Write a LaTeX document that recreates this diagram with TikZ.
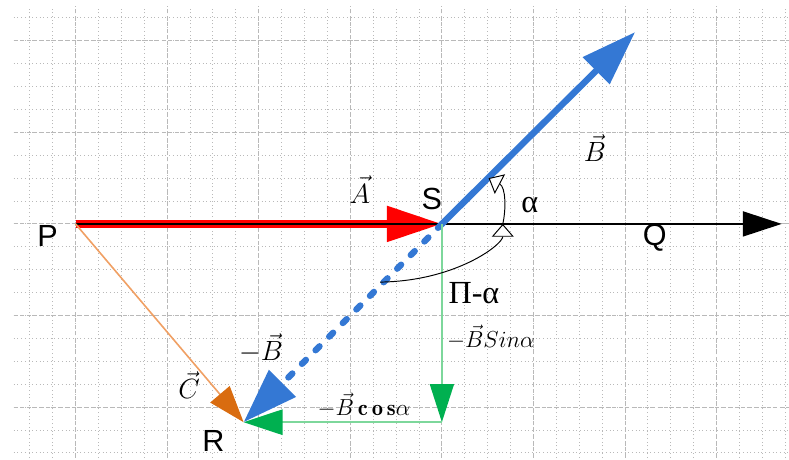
\documentclass[tikz,border=0pt]{standalone}
\usepackage{fontspec}
\usetikzlibrary{arrows.meta}
\newfontfamily\ptfont{Liberation Sans}
\newfontfamily\grfont{Liberation Serif}
\definecolor{vecblue}{RGB}{52,120,212}
\definecolor{vecorange}{RGB}{217,108,16}
\definecolor{lineorange}{RGB}{240,160,100}
\definecolor{vecgreen}{RGB}{0,176,80}
\definecolor{linegreen}{RGB}{125,215,155}

\begin{document}
\begin{tikzpicture}[
  minor/.style={gray!55, dash pattern=on 0.6pt off 1.7pt, line width=0.6pt},
  major/.style={gray!55, dash pattern=on 2.5pt off 1.5pt, line width=0.6pt},
  point/.style={font=\ptfont\fontsize{19}{20}\selectfont, inner sep=0pt},
  vlabel/.style={font=\fontsize{17}{18}\selectfont, inner sep=0pt},
  glabel/.style={font=\grfont\fontsize{20}{22}\selectfont, inner sep=0pt},
  clabel/.style={font=\fontsize{14}{15}\selectfont, inner sep=0pt},
  bigtip/.style={-{Triangle[length=1.2cm, width=0.8cm]}},
  opentip/.style={-{Triangle[length=0.28cm, width=0.48cm, fill=white]}},
  angarc/.style={black, line width=0.6pt, opentip}
]

%okvir i mreza
\useasboundingbox (-9.65,-5.15) rectangle (7.58,4.89);
\draw[minor] (-9.35,-5.1) grid[step=0.5] (7.6,4.75);
\draw[major] (-9.35,-5.1) grid[step=2] (7.6,4.75);

%tocke
\coordinate (P) at (-8,0);
\coordinate (S) at (0,0);
\coordinate (E) at (7.42,0);
\coordinate (Bt) at (4.22,4.19);
\coordinate (R) at (-4.33,-4.33);
\coordinate (K) at (S |- R);
\coordinate (a0) at (1.33,0);
\coordinate (a1) at (1.02,1.0);
\coordinate (a2) at (-1.35,-1.27);

%vektori A i os
\draw[red, line width=4.5pt, -{Triangle[length=1.2cm, width=0.75cm]}] (P) -- (S);
\draw[black, line width=0.9pt, -{Triangle[length=0.85cm, width=0.55cm]}] (P) -- (E);

%vektori B i -B
\draw[vecblue, line width=4pt, bigtip] (S) -- (Bt);
\draw[vecblue, line width=4pt, line cap=round, dash pattern=on 0.12cm off 0.3cm, bigtip] (S) -- (R);

%komponente
\draw[linegreen, line width=1.3pt, -{Triangle[length=0.83cm, width=0.52cm, color=vecgreen]}] (S) -- (K);
\draw[linegreen, line width=1.3pt, -{Triangle[length=0.85cm, width=0.55cm, color=vecgreen]}] (K) -- (R);

%vektor C
\draw[lineorange, line width=1pt, -{Triangle[length=0.8cm, width=0.55cm, color=vecorange]}] (P) -- (R);

%kutovi
\draw[angarc] (a2) .. controls (0.3,-1.25) and (1.33,-0.45) .. (a0);
\draw[angarc] (a0) .. controls (1.4,0.3) and (1.4,0.8) .. (a1);

%oznake
\node[point] (lblP) at (-8.61,-0.27) {P};
\node[point] (lblS) at (-0.22,0.55) {S};
\node[point] (lblQ) at (4.65,-0.3) {Q};
\node[point] (lblR) at (-4.99,-4.74) {R};
\node[vlabel] (lblA) at (-1.79,0.75) {$\vec{A}$};
\node[vlabel] (lblB) at (3.34,1.66) {$\vec{B}$};
\node[vlabel] (lblmB) at (-3.95,-2.71) {$-\vec{B}$};
\node[vlabel] (lblC) at (-5.52,-3.52) {$\vec{C}$};
\node[glabel] (lblal) at (1.92,0.41) {α};
\node[glabel] (lblpi) at (0.70,-1.52) {Π-α};
\node[clabel] (lblsin) at (1.07,-2.47) {$-\vec{B}Sin\alpha$};
\node[clabel] (lblcos) at (-1.70,-3.95) {$-\vec{B}\,\mathbf{c\,o\,s}\alpha$};

\end{tikzpicture}
\end{document}
